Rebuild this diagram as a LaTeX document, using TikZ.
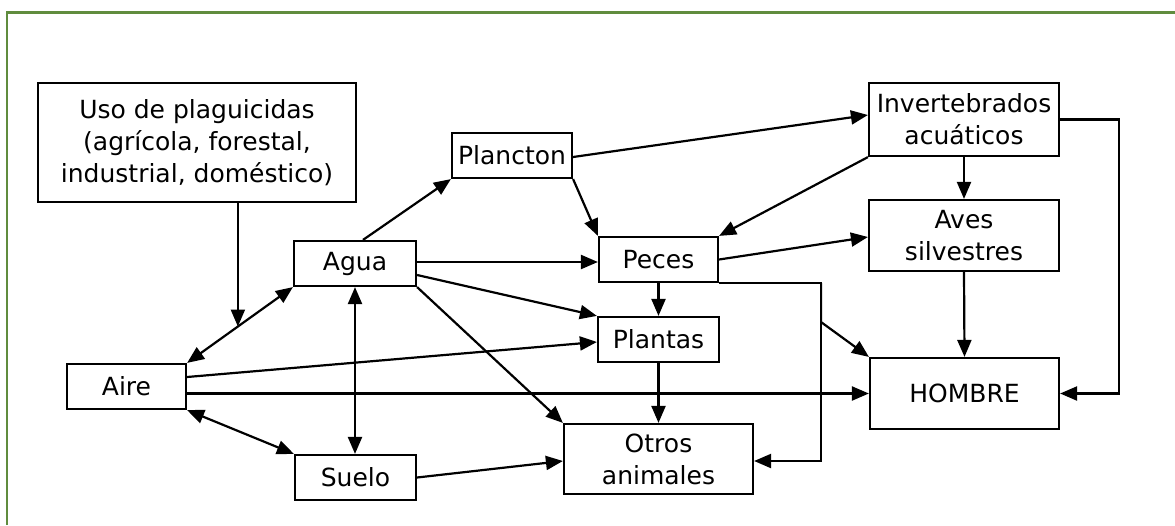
\documentclass[tikz,border=0pt]{standalone}
\usepackage{fontspec}
\setmainfont{DejaVu Sans}
\usetikzlibrary{arrows.meta,calc}
\definecolor{marco}{RGB}{96,140,62}
\tikzset{
  caja/.style={draw,line width=2.2pt,inner sep=0pt,align=center,
    font=\fontsize{25}{32}\selectfont},
  flecha/.style={line width=2.2pt,-{Triangle[length=17pt,width=14pt]}},
  doble/.style={line width=2.2pt,{Triangle[length=17pt,width=14pt]}-{Triangle[length=17pt,width=14pt]}}
}
\begin{document}
\begin{tikzpicture}[x=1pt,y=-1pt]
  \useasboundingbox (0,0) rectangle (1175,525);
  \fill[white] (0,0) rectangle (1175,525);
  \draw[marco,line width=2.8pt] (7,525) -- (7,12.5) -- (1175,12.5);
  % cajas
  \node[caja,minimum width=318pt,minimum height=119pt] (uso) at (197,142.5)
    {Uso de plaguicidas\\(agrícola, forestal,\\industrial, doméstico)};
  \node[caja,minimum width=122pt,minimum height=45pt] (agua) at (355,263.5) {Agua};
  \node[caja,minimum width=120pt,minimum height=45pt] (plancton) at (512,155.5) {Plancton};
  \node[caja,minimum width=119pt,minimum height=45pt] (peces) at (658.5,259.5) {Peces};
  \node[caja,minimum width=190pt,minimum height=73pt] (invert) at (964,119.5)
    {Invertebrados\\acuáticos};
  \node[caja,minimum width=190pt,minimum height=71pt] (aves) at (964,235.5)
    {Aves\\silvestres};
  \node[caja,minimum width=119pt,minimum height=45pt] (aire) at (126.5,386.5) {Aire};
  \node[caja,minimum width=121pt,minimum height=45pt] (suelo) at (355.5,477.5) {Suelo};
  \node[caja,minimum width=121pt,minimum height=45pt] (plantas) at (658.5,339.5) {Plantas};
  \node[caja,minimum width=189pt,minimum height=70pt] (otros) at (658.5,459)
    {Otros\\animales};
  \node[caja,minimum width=189pt,minimum height=71pt] (hombre) at (964.5,393.5) {HOMBRE};
  % flechas
  \coordinate (usofin) at ($(aire.north east)!0.48!(agua.south west)$);
  \draw[flecha] (usofin |- uso.south) -- (usofin);
  \draw[doble] (aire.north east) -- (agua.south west);
  \draw[doble] (aire.south east) -- (suelo.north west);
  \draw[doble] (agua.south) -- (agua.south |- suelo.north);
  \draw[flecha] ([xshift=8pt]agua.north) -- (plancton.south west);
  \draw[flecha] ([yshift=-1.5pt]plancton.east) -- ([yshift=4.5pt]invert.west);
  \draw[flecha] (plancton.south east) -- (peces.north west);
  \draw[flecha] (invert.south west) -- (peces.north east);
  \draw[flecha] (invert.south) -- (aves.north);
  \draw[flecha] (invert.east) -- ++(59,0) |- (hombre.east);
  \draw[flecha] (aves.south) -- (hombre.north);
  \draw[flecha] (peces.east) -- ([yshift=-1.5pt]aves.west);
  \draw[flecha] ([yshift=-2.5pt]peces.west -| agua.east) -- ([yshift=-2.5pt]peces.west);
  \draw[flecha] ([yshift=-11.5pt]agua.east) -- (plantas.north west);
  \draw[flecha] (agua.south east) -- (otros.north west);
  \draw[flecha] ([yshift=9.5pt]aire.east) -- ([yshift=-2.5pt]plantas.west);
  \draw[flecha] (aire.east |- hombre.west) -- (hombre.west);
  \draw[flecha] (suelo.east) -- ([yshift=-2pt]otros.west);
  \draw[flecha] (peces.south) -- (plantas.north);
  \draw[flecha] (plantas.south) -- (otros.north);
  \coordinate (codo) at ($(peces.south east)+(102,0)$);
  \draw[flecha] (peces.south east) -- (codo) |- ([yshift=-2pt]otros.east);
  \draw[flecha] (codo) -- ++(0,39) -- (hombre.north west);
\end{tikzpicture}
\end{document}
